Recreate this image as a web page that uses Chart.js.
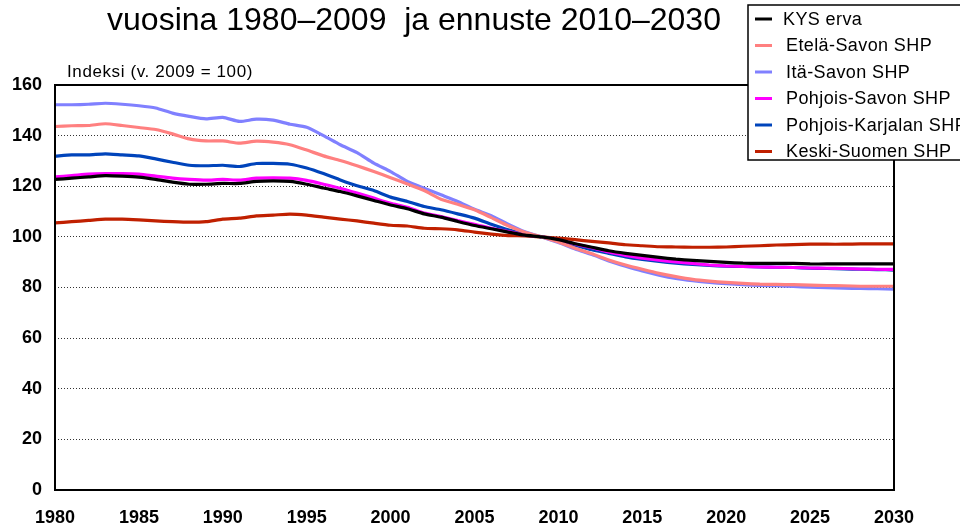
<!DOCTYPE html>
<html lang="fi">
<head>
<meta charset="UTF-8">
<title>Indeksi (v. 2009 = 100)</title>
<script src="https://cdn.jsdelivr.net/npm/chart.js"></script>
<style>
  html, body { margin: 0; padding: 0; background: #fff; }
  #wrap { width: 960px; height: 526px; }
</style>
</head>
<body>
<div id="wrap"><canvas id="chart" width="960" height="526"></canvas></div>
<script>
const years = [
  1980, 1981, 1982, 1983, 1984, 1985, 1986, 1987, 1988, 1989,
  1990, 1991, 1992, 1993, 1994, 1995, 1996, 1997, 1998, 1999,
  2000, 2001, 2002, 2003, 2004, 2005, 2006, 2007, 2008, 2009,
  2010, 2011, 2012, 2013, 2014, 2015, 2016, 2017, 2018, 2019,
  2020, 2021, 2022, 2023, 2024, 2025, 2026, 2027, 2028, 2029, 2030
];
const yearLabels = [1980, 1985, 1990, 1995, 2000, 2005, 2010, 2015, 2020, 2025, 2030];

const kysErva = [
  122.7, 123.2, 123.7, 124.2, 124.0, 123.6, 122.7, 121.6, 120.8, 120.8,
  121.1, 121.1, 121.9, 122.1, 121.9, 120.8, 119.3, 117.9, 116.2, 114.4,
  112.6, 111.1, 109.1, 107.8, 106.1, 104.5, 103.2, 101.9, 100.7, 100.0,
  98.9, 97.3, 95.9, 94.5, 93.5, 92.7, 91.9, 91.2, 90.7, 90.3,
  89.9, 89.6, 89.5, 89.5, 89.5, 89.3, 89.3, 89.3, 89.3, 89.3, 89.3
];
const etelaSavo = [
  143.6, 143.9, 144.0, 144.7, 144.0, 143.2, 142.4, 140.7, 138.7, 137.9,
  137.9, 137.0, 137.8, 137.4, 136.4, 134.3, 132.0, 130.2, 128.1, 125.8,
  123.4, 120.9, 118.3, 114.9, 112.9, 110.7, 107.6, 104.4, 101.8, 100.0,
  98.0, 95.5, 93.3, 90.9, 88.9, 87.2, 85.6, 84.3, 83.2, 82.5,
  82.0, 81.6, 81.3, 81.2, 81.1, 80.9, 80.8, 80.7, 80.5, 80.5, 80.5
];
const itaSavo = [
  152.2, 152.2, 152.4, 152.8, 152.4, 151.8, 150.9, 148.9, 147.6, 146.6,
  147.2, 145.6, 146.5, 146.1, 144.5, 143.3, 140.0, 136.4, 133.3, 129.1,
  125.8, 121.9, 119.2, 116.6, 114.0, 110.9, 108.4, 105.0, 102.0, 100.0,
  97.8, 95.2, 93.0, 90.5, 88.4, 86.5, 84.9, 83.6, 82.7, 82.0,
  81.5, 81.1, 80.8, 80.7, 80.4, 80.1, 79.9, 79.7, 79.6, 79.5, 79.3
];
const pohjoisSavo = [
  123.7, 124.2, 124.8, 125.0, 125.0, 124.8, 124.0, 123.2, 122.7, 122.4,
  122.7, 122.4, 123.2, 123.3, 123.2, 122.3, 120.8, 119.2, 117.3, 115.3,
  113.3, 111.7, 109.4, 108.0, 106.4, 105.0, 103.4, 102.1, 100.8, 100.0,
  98.8, 97.2, 95.7, 94.0, 92.7, 91.6, 90.8, 90.1, 89.5, 88.9,
  88.5, 88.3, 88.1, 88.0, 87.9, 87.7, 87.6, 87.5, 87.3, 87.2, 87.2
];
const pohjoisKarjala = [
  131.9, 132.4, 132.4, 132.8, 132.4, 132.0, 130.8, 129.5, 128.3, 128.1,
  128.3, 127.8, 129.0, 129.0, 128.7, 127.2, 125.0, 122.5, 120.2, 118.3,
  115.7, 114.0, 112.0, 110.7, 109.1, 107.4, 105.0, 102.8, 101.2, 100.0,
  98.5, 96.7, 94.9, 93.5, 92.1, 91.1, 90.3, 89.6, 89.1, 88.7,
  88.4, 88.3, 88.1, 88.0, 87.9, 87.6, 87.5, 87.3, 87.2, 87.1, 86.9
];
const keskiSuomi = [
  105.5, 106.0, 106.5, 107.0, 107.0, 106.7, 106.3, 106.0, 105.8, 106.0,
  107.0, 107.4, 108.3, 108.6, 109.0, 108.6, 107.8, 107.0, 106.3, 105.4,
  104.6, 104.3, 103.4, 103.2, 102.8, 101.9, 101.1, 100.5, 100.4, 100.0,
  99.5, 98.9, 98.2, 97.6, 96.9, 96.5, 96.1, 96.0, 95.9, 95.9,
  96.0, 96.3, 96.5, 96.8, 96.9, 97.1, 97.1, 97.1, 97.2, 97.2, 97.2
];

const seriesNames = ['KYS erva', 'Etelä-Savon SHP', 'Itä-Savon SHP', 'Pohjois-Savon SHP', 'Pohjois-Karjalan SHP', 'Keski-Suomen SHP'];
const seriesColors = ['#000000', '#ff8080', '#8080ff', '#ff00ff', '#0044bb', '#c02000'];
const seriesData = [kysErva, etelaSavo, itaSavo, pohjoisSavo, pohjoisKarjala, keskiSuomi];

const titleText = 'vuosina 1980–2009  ja ennuste 2010–2030';
const axisLabel = 'Indeksi (v. 2009 = 100)';
const FONT = '"Liberation Sans", Arial, sans-serif';

// otsikko, akselin nimi, kehys ja selite piirretään itse
const extras = {
  id: 'extras',
  afterDatasetsDraw(chart) {
    const { ctx, chartArea: a } = chart;
    ctx.save();
    ctx.strokeStyle = '#000';
    ctx.lineWidth = 2;
    ctx.strokeRect(a.left, a.top, a.right - a.left, a.bottom - a.top);
    ctx.restore();
  },
  afterDraw(chart) {
    const { ctx } = chart;
    ctx.save();
    ctx.fillStyle = '#000';
    ctx.textBaseline = 'alphabetic';
    ctx.textAlign = 'center';
    ctx.font = '32px ' + FONT;
    ctx.fillText(titleText, 414, 30);

    ctx.textAlign = 'left';
    ctx.font = '17px ' + FONT;
    ctx.letterSpacing = '0.6px';
    ctx.fillText(axisLabel, 67, 77);

    // selite
    ctx.fillStyle = '#fff';
    ctx.fillRect(748, 5, 230, 155);
    ctx.strokeStyle = '#000';
    ctx.lineWidth = 1.5;
    ctx.strokeRect(748, 5, 230, 155);
    ctx.font = '18px ' + FONT;
    ctx.letterSpacing = '0.4px';
    ctx.textBaseline = 'middle';
    chart.data.datasets.forEach((ds, i) => {
      const y = 19 + i * 26.5;
      ctx.strokeStyle = ds.borderColor;
      ctx.lineWidth = 3;
      ctx.beginPath();
      ctx.moveTo(755, y);
      ctx.lineTo(772, y);
      ctx.stroke();
      ctx.fillStyle = '#000';
      ctx.fillText(ds.label, i === 0 ? 783 : 786, y + 1);
    });
    ctx.restore();
  }
};

new Chart(document.getElementById('chart'), {
  type: 'line',
  data: {
    labels: years,
    datasets: seriesData.map((d, i) => ({
      label: seriesNames[i],
      data: d,
      borderColor: seriesColors[i],
      backgroundColor: seriesColors[i],
      borderWidth: 3.2,
      pointRadius: 0,
      tension: 0.2,
      fill: false
    }))
  },
  options: {
    responsive: false,
    animation: false,
    layout: { padding: { top: 85, right: 66, left: 0, bottom: 0 } },
    plugins: {
      legend: { display: false },
      title: { display: false },
      tooltip: { enabled: false }
    },
    scales: {
      x: {
        grid: { display: false, drawTicks: false },
        border: { display: false },
        ticks: {
          autoSkip: false,
          maxRotation: 0,
          padding: 17,
          color: '#000',
          font: { family: FONT, size: 18, weight: 'bold' },
          callback: function (v, i) {
            return yearLabels.includes(years[i]) ? String(years[i]) : null;
          }
        },
        afterFit: s => { s.height = 36; }
      },
      y: {
        min: 0,
        max: 160,
        grid: { color: '#333', lineWidth: 1, drawTicks: false },
        border: { display: false, dash: [1, 2] },
        ticks: {
          stepSize: 20,
          padding: 13,
          color: '#000',
          font: { family: FONT, size: 18, weight: 'bold' }
        },
        afterFit: s => { s.width = 55; }
      }
    }
  },
  plugins: [extras]
});
</script>
</body>
</html>
